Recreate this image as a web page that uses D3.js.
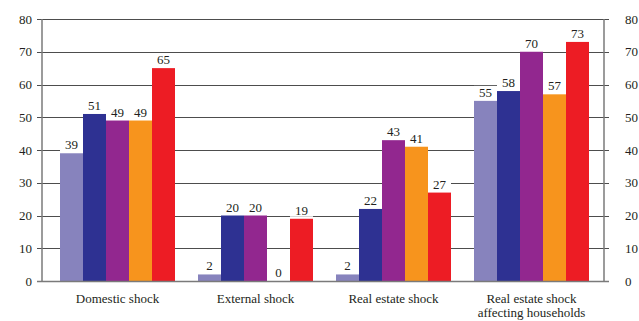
<!DOCTYPE html>
<html>
<head>
<meta charset="utf-8">
<script src="https://cdn.jsdelivr.net/npm/d3@7"></script>
<style>
  html, body { margin: 0; padding: 0; background: #fff; }
  svg { display: block; font-family: "Liberation Serif", "Times New Roman", serif; }
</style>
</head>
<body>
<svg id="chart" width="639" height="321"></svg>
<script>
// Shock scenarios and the five series shown for each
const categories = ["Domestic shock", "External shock", "Real estate shock", "Real estate shock\naffecting households"];
const seriesNames = ["s1", "s2", "s3", "s4", "s5"];
const seriesColors = ["#8783bd", "#2e3192", "#92278f", "#f7941d", "#ed1c24"];
const s1 = [39, 2, 2, 55];
const s2 = [51, 20, 22, 58];
const s3 = [49, 20, 43, 70];
const s4 = [49, 0, 41, 57];
const s5 = [65, 19, 27, 73];
const tickValues = [0, 10, 20, 30, 40, 50, 60, 70, 80];

const seriesValues = [s1, s2, s3, s4, s5];
const svg = d3.select("#chart");
const textColor = "#231f20";

const plotLeft = 42, plotRight = 604, plotTop = 19, plotBottom = 281;

const y = d3.scaleLinear().domain([0, 80]).range([plotBottom, plotTop]);
const x = d3.scaleBand().domain(d3.range(categories.length))
  .range([48.5, 600.5]).paddingInner(23 / 138).paddingOuter(11.5 / 138);
const xs = d3.scaleBand().domain(d3.range(seriesNames.length))
  .range([0, x.bandwidth()]).padding(0);

// Horizontal gridlines across the plot, with small outer ticks
svg.append("g").selectAll("line").data(tickValues.filter(d => d > 0)).join("line")
  .attr("x1", plotLeft - 5).attr("x2", plotRight + 5)
  .attr("y1", d => Math.round(y(d)) + 0.5).attr("y2", d => Math.round(y(d)) + 0.5)
  .attr("stroke", "#4d4d4d").attr("stroke-width", 1);

// Bars
const groups = svg.append("g").selectAll("g").data(categories).join("g")
  .attr("transform", (d, i) => `translate(${x(i)},0)`);

groups.selectAll("rect.bar")
  .data((d, i) => seriesValues.map((vals, k) => ({ k, v: vals[i] })))
  .join("rect").attr("class", "bar")
  .attr("x", d => xs(d.k)).attr("width", xs.bandwidth())
  .attr("y", d => y(d.v)).attr("height", d => plotBottom - y(d.v))
  .attr("fill", d => seriesColors[d.k]);

// Value labels on white plates above each bar
const labels = groups.selectAll("g.lbl")
  .data((d, i) => seriesValues.map((vals, k) => ({ k, v: vals[i] })))
  .join("g").attr("class", "lbl");
labels.append("rect")
  .attr("x", d => xs(d.k)).attr("width", xs.bandwidth())
  .attr("y", d => y(d.v) - 15).attr("height", 13)
  .attr("fill", "#fff");
labels.append("text")
  .attr("x", d => xs(d.k) + xs.bandwidth() / 2)
  .attr("y", d => y(d.v) - 4)
  .attr("text-anchor", "middle").attr("font-size", 13).attr("fill", textColor)
  .text(d => d.v);

// Axis frame: left, right and baseline
const axisColor = "#7a7a7a";
svg.append("line").attr("x1", plotLeft).attr("x2", plotLeft)
  .attr("y1", plotTop).attr("y2", plotBottom + 0.5)
  .attr("stroke", axisColor).attr("stroke-width", 1.5);
svg.append("line").attr("x1", plotRight).attr("x2", plotRight)
  .attr("y1", plotTop).attr("y2", plotBottom + 0.5)
  .attr("stroke", axisColor).attr("stroke-width", 1.5);
svg.append("line").attr("x1", plotLeft - 5).attr("x2", plotRight + 5)
  .attr("y1", plotBottom + 0.5).attr("y2", plotBottom + 0.5)
  .attr("stroke", axisColor).attr("stroke-width", 1.5);

// Tick labels on both sides
const leftAxis = d3.axisLeft(y).tickValues(tickValues).tickSize(0).tickPadding(0);
const gl = svg.append("g").attr("transform", `translate(${plotLeft - 10},0)`).call(leftAxis);
const rightAxis = d3.axisRight(y).tickValues(tickValues).tickSize(0).tickPadding(0);
const gr = svg.append("g").attr("transform", `translate(${plotRight + 21},0)`).call(rightAxis);
[gl, gr].forEach(g => {
  g.select(".domain").remove();
  g.selectAll("text").attr("font-size", 13).attr("fill", textColor)
    .attr("font-family", "Liberation Serif, Times New Roman, serif");
});

// Category labels
const cat = svg.append("g").selectAll("text").data(categories).join("text")
  .attr("x", (d, i) => x(i) + x.bandwidth() / 2)
  .attr("y", 303)
  .attr("text-anchor", "middle").attr("font-size", 13).attr("fill", textColor);
cat.selectAll("tspan").data(d => d.split("\n")).join("tspan")
  .attr("x", function () { return d3.select(this.parentNode).attr("x"); })
  .attr("dy", (d, i) => i === 0 ? 0 : 14)
  .text(d => d);
</script>
</body>
</html>
